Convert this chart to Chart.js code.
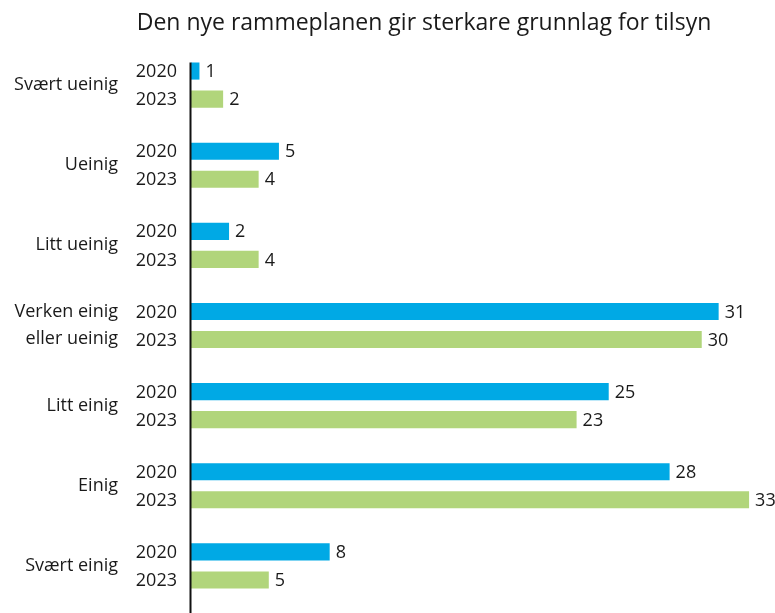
<!DOCTYPE html>
<html>
<head>
<meta charset="utf-8">
<script src="https://cdn.jsdelivr.net/npm/chart.js@4.4.0/dist/chart.umd.min.js"></script>
<style>
    html, body { margin: 0; padding: 0; background: #fff; }
    #wrap { position: relative; width: 775px; height: 613px; }
    #title {
        position: absolute; left: 74px; top: 6px; width: 700px;
        text-align: center; font-family: "Open Sans", sans-serif; font-size: 23px;
        color: #1a1a1a; line-height: 30px;
    }
</style>
</head>
<body>
<div id="wrap">
    <div id="title">Den nye rammeplanen gir sterkare grunnlag for tilsyn</div>
    <canvas id="chart" width="775" height="613"></canvas>
</div>
<script>
// ===== DATA =====
const categories = [
    'Svært ueinig', 'Ueinig', 'Litt ueinig', ['Verken einig', 'eller ueinig'],
    'Litt einig', 'Einig', 'Svært einig'
];
const years = ['2020', '2023'];
// bar lengths (labels show rounded values)
const values2020 = [0.5, 5.2, 2.25, 31.2, 24.7, 28.3, 8.2];
const values2023 = [1.9, 4.0, 4.0, 30.2, 22.8, 33.0, 4.6];

const BLUE = '#00A9E5';
const GREEN = '#B1D57B';
const TEXT = '#1a1a1a';
const FONT = '"Open Sans", sans-serif';

// ===== LABELS PLUGIN =====
const barLabels = {
    id: 'barLabels',
    afterDatasetsDraw(chart) {
        const { ctx, chartArea } = chart;
        ctx.save();
        ctx.font = '18px ' + FONT;
        ctx.fillStyle = TEXT;
        ctx.textBaseline = 'middle';
        chart.data.datasets.forEach((ds, di) => {
            const meta = chart.getDatasetMeta(di);
            meta.data.forEach((bar, i) => {
                // value label
                ctx.textAlign = 'left';
                ctx.fillText(String(Math.round(ds.data[i])), bar.x + 6, bar.y + 1);
                // year label
                ctx.textAlign = 'right';
                ctx.fillText(years[di], chartArea.left - 14, bar.y + 1);
            });
        });
        // axis line
        const firstBar = chart.getDatasetMeta(0).data[0];
        ctx.strokeStyle = '#111';
        ctx.lineWidth = 2;
        ctx.beginPath();
        ctx.moveTo(chartArea.left - 0.5, firstBar.y - firstBar.height / 2);
        ctx.lineTo(chartArea.left - 0.5, chart.height);
        ctx.stroke();
        ctx.restore();
    }
};

new Chart(document.getElementById('chart'), {
    type: 'bar',
    data: {
        labels: categories,
        datasets: [
            { label: years[0], data: values2020, backgroundColor: BLUE },
            { label: years[1], data: values2023, backgroundColor: GREEN }
        ]
    },
    options: {
        indexAxis: 'y',
        responsive: false,
        animation: false,
        categoryPercentage: 0.7,
        barPercentage: 0.61,
        layout: { padding: { top: 45, bottom: 7, left: 0, right: 9 } },
        plugins: {
            legend: { display: false },
            tooltip: { enabled: false }
        },
        scales: {
            x: {
                min: 0, max: 34,
                display: false
            },
            y: {
                grid: { display: false, drawTicks: false },
                border: { display: false },
                ticks: {
                    color: TEXT,
                    font: { size: 18, family: FONT, lineHeight: 1.5 },
                    padding: 73
                },
                afterFit: s => {
                    s.width = 191;
                    s.paddingTop = 0;
                    s.paddingBottom = 0;
                }
            }
        }
    },
    plugins: [barLabels]
});
</script>
</body>
</html>
